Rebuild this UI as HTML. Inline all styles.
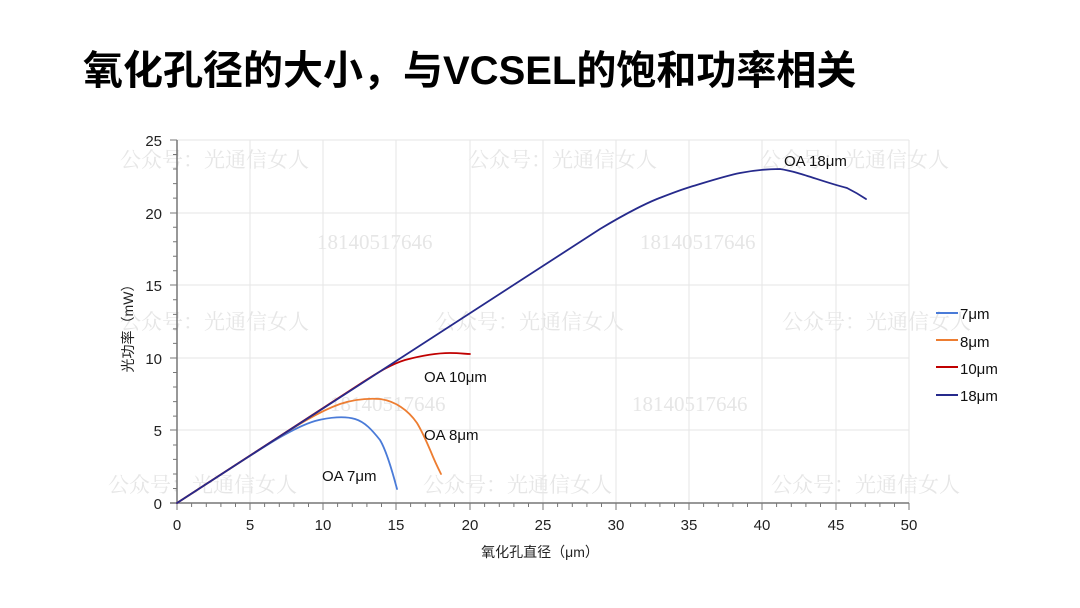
<!DOCTYPE html>
<html><head><meta charset="utf-8"><style>
body{margin:0;background:#fff;}
svg{display:block;font-family:"Liberation Sans","Noto Sans CJK SC",sans-serif;}
.wm{fill:#e6e6e6;font-family:"Liberation Serif","Noto Serif CJK SC",serif;font-size:21px;}
.tk{font-size:15px;fill:#222;}
</style></head><body>
<svg width="1080" height="608" viewBox="0 0 1080 608">
<text x="83" y="84" font-size="40" font-weight="bold" fill="#000" font-family="'Liberation Sans','Noto Sans CJK SC',sans-serif">氧化孔径的大小，与VCSEL的饱和功率相关</text>
<g stroke="#e6e6e6" stroke-width="1">
<line x1="250" y1="140" x2="250" y2="503"/><line x1="323" y1="140" x2="323" y2="503"/><line x1="396" y1="140" x2="396" y2="503"/><line x1="470" y1="140" x2="470" y2="503"/><line x1="543" y1="140" x2="543" y2="503"/><line x1="616" y1="140" x2="616" y2="503"/><line x1="689" y1="140" x2="689" y2="503"/><line x1="762" y1="140" x2="762" y2="503"/><line x1="836" y1="140" x2="836" y2="503"/><line x1="909" y1="140" x2="909" y2="503"/>
<line x1="177" y1="140" x2="909" y2="140"/><line x1="177" y1="213" x2="909" y2="213"/><line x1="177" y1="285" x2="909" y2="285"/><line x1="177" y1="358" x2="909" y2="358"/><line x1="177" y1="430" x2="909" y2="430"/>
</g>
<g class="wm">
<text x="120" y="167">公众号：光通信女人</text><text x="468" y="167">公众号：光通信女人</text><text x="760" y="167">公众号：光通信女人</text>
<text x="120" y="329">公众号：光通信女人</text><text x="435" y="329">公众号：光通信女人</text><text x="782" y="329">公众号：光通信女人</text>
<text x="108" y="492">公众号：光通信女人</text><text x="423" y="492">公众号：光通信女人</text><text x="771" y="492">公众号：光通信女人</text>
<text x="317" y="249">18140517646</text><text x="640" y="249">18140517646</text><text x="330" y="411">18140517646</text><text x="632" y="411">18140517646</text>
</g>
<g stroke="#777" stroke-width="1.5" fill="none">
<line x1="177" y1="140" x2="177" y2="503"/><line x1="170" y1="503" x2="909" y2="503"/>
</g>
<g stroke="#777" stroke-width="1">
<path d="M177 140h-7M177 213h-7M177 285h-7M177 358h-7M177 430h-7"/>
<path d="M177 154.5h-4M177 169h-4M177 183.6h-4M177 198.1h-4M177 227.2h-4M177 241.7h-4M177 256.2h-4M177 270.8h-4M177 299.8h-4M177 314.4h-4M177 328.9h-4M177 343.4h-4M177 372.5h-4M177 387h-4M177 401.6h-4M177 416.1h-4M177 445h-4M177 459.4h-4M177 474h-4M177 488.5h-4"/>
<path d="M250 503v7M323 503v7M396 503v7M470 503v7M543 503v7M616 503v7M689 503v7M762 503v7M836 503v7M909 503v7M177 503v7"/>
<path d="M191.6 503v4M206.3 503v4M220.9 503v4M235.5 503v4M264.6 503v4M279.3 503v4M293.9 503v4M308.5 503v4M337.6 503v4M352.3 503v4M366.9 503v4M381.5 503v4M410.6 503v4M425.3 503v4M439.9 503v4M454.5 503v4M484.6 503v4M499.3 503v4M513.9 503v4M528.5 503v4M557.6 503v4M572.3 503v4M586.9 503v4M601.5 503v4M630.6 503v4M645.3 503v4M659.9 503v4M674.5 503v4M703.6 503v4M718.3 503v4M732.9 503v4M747.5 503v4M776.6 503v4M791.3 503v4M805.9 503v4M820.5 503v4M850.6 503v4M865.3 503v4M879.9 503v4M894.5 503v4"/>
</g>
<g class="tk" text-anchor="end">
<text x="162" y="146">25</text><text x="162" y="219">20</text><text x="162" y="291">15</text><text x="162" y="364">10</text><text x="162" y="436">5</text><text x="162" y="509">0</text>
</g>
<g class="tk" text-anchor="middle">
<text x="177" y="530">0</text><text x="250" y="530">5</text><text x="323" y="530">10</text><text x="396" y="530">15</text><text x="470" y="530">20</text><text x="543" y="530">25</text><text x="616" y="530">30</text><text x="689" y="530">35</text><text x="762" y="530">40</text><text x="836" y="530">45</text><text x="909" y="530">50</text>
</g>
<text x="540" y="557" font-size="14" text-anchor="middle" fill="#222">氧化孔直径（μm）</text>
<text transform="translate(133,325) rotate(-90)" font-size="14" text-anchor="middle" fill="#222">光功率（mW）</text>
<g fill="none" stroke-width="1.8" stroke-linecap="round">
<path stroke="#4a7bd8" d="M177 503 L245 459 C270 443 295 427 315 421 C330 417 345 416 355 419 C365 422 372 430 380 440 C386 450 392 470 397 489"/>
<path stroke="#ed7d31" d="M177 503 L265 446 C290 430 315 413 340 404 C352 400 365 398 380 399 C395 401 408 410 417 423 C423 433 428 445 431 452 C435 462 438 468 441 474"/>
<path stroke="#c00000" d="M177 503 L360 384 C380 371 392 364 405 360 C420 356 435 353 450 353 C460 353 466 354 470 354"/>
<path stroke="#262a8c" d="M177 503 L600 229 C620 217 640 206 657 199 C670 194 680 190 690 187 C710 181 725 176 740 173 C755 170 768 169 780 169 C800 172 820 181 847 188 C855 192 860 195 866 199"/>
</g>
<g font-size="15" fill="#111">
<text x="322" y="481">OA 7μm</text><text x="424" y="440">OA 8μm</text><text x="424" y="382">OA 10μm</text><text x="784" y="166">OA 18μm</text>
</g>
<g stroke-width="2">
<line x1="936" y1="313" x2="958" y2="313" stroke="#4a7bd8"/><line x1="936" y1="340" x2="958" y2="340" stroke="#ed7d31"/><line x1="936" y1="367" x2="958" y2="367" stroke="#c00000"/><line x1="936" y1="395" x2="958" y2="395" stroke="#262a8c"/>
</g>
<g font-size="15" fill="#111">
<text x="960" y="319">7μm</text><text x="960" y="347">8μm</text><text x="960" y="374">10μm</text><text x="960" y="401">18μm</text>
</g>
</svg>
</body></html>
